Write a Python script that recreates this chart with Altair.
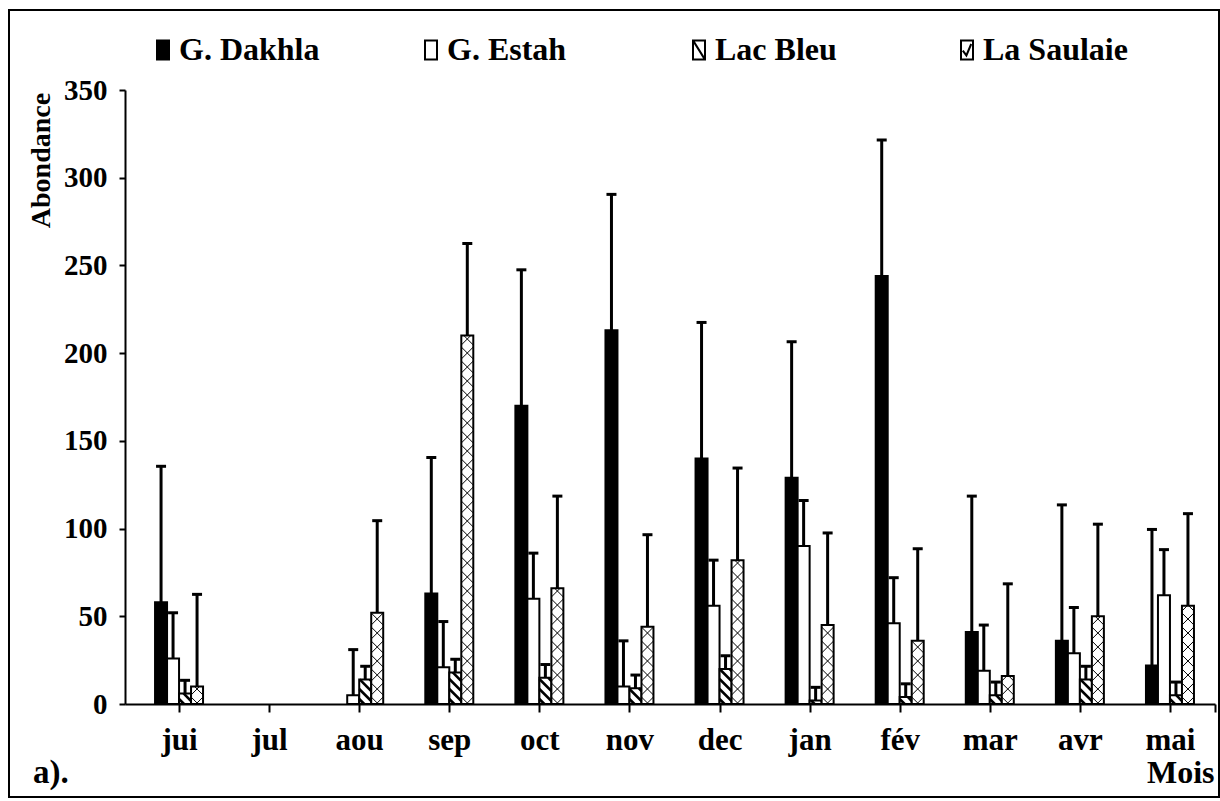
import json
import altair as alt
import pandas as pd

# ---- data -------------------------------------------------------------
months = ["jui", "jul", "aou", "sep", "oct", "nov", "dec", "jan", "fév", "mar", "avr", "mai"]
series = ["G. Dakhla", "G. Estah", "Lac Bleu", "La Saulaie"]

# mean abundance per month (None = no sample)
dakhla = [58, None, None, 63, 170, 213, 140, 129, 244, 41, 36, 22]
estah = [26, None, 5, 21, 60, 10, 56, 90, 46, 19, 29, 62]
lac_bleu = [6, None, 14, 18, 15, 9, 20, 2, 4, 5, 14, 5]
saulaie = [10, None, 52, 210, 66, 44, 82, 45, 36, 16, 50, 56]

# error bar length per site
errors = [77.5, 26, 7.5, 52.5]

values = [dakhla, estah, lac_bleu, saulaie]

# ---- styling / geometry ---------------------------------------------
FONT = "Liberation Serif"
W, H = 1090, 614
X_DOMAIN = [-0.6, 11.5]
Y_MAX = 350
PX_X = W / (X_DOMAIN[1] - X_DOMAIN[0])
PX_Y = H / Y_MAX
BAR_W = 12 / PX_X
offsets = [-1.5, -0.5, 0.5, 1.5]
fills = ["black", "white", "white", "white"]
CAP = 5 / PX_X

# legend keys: tall boxes, with a diagonal / a tick for the hatched sites
box = "M-1,-1.6H1V1.6H-1Z"
shapes = [box, box, box + "M-1,-1.6L1,1.6", box + "M-0.7,0.1L-0.1,0.9L0.7,-1.0"]

bars, hatch = [], []


def hatch_lines(xl, h, direction, spacing_px, site):
    """45-degree hatch segments clipped to the bar [xl, xl+BAR_W] x [0, h]."""
    w_px = BAR_W * PX_X
    k = 1 / PX_Y
    out = []
    if direction < 0:  # "\" : value falls to the right
        c = spacing_px * k / 2
        while c < h + w_px * k:
            u0, u1 = max(0.0, (c - h) / k), min(w_px, c / k)
            if u1 - u0 > 0.5:
                out.append((u0, c - u0 * k, u1, c - u1 * k))
            c += spacing_px * k
    else:  # "/" : value rises to the right
        c = -w_px * k + spacing_px * k / 2
        while c < h:
            u0, u1 = max(0.0, -c / k), min(w_px, (h - c) / k)
            if u1 - u0 > 0.5:
                out.append((u0, c + u0 * k, u1, c + u1 * k))
            c += spacing_px * k
    for u0, v0, u1, v1 in out:
        hatch.append({"site": site, "hx": xl + u0 / PX_X, "hy": v0,
                      "hx2": xl + u1 / PX_X, "hy2": v1})


for j, s in enumerate(series):
    for i, m in enumerate(months):
        v = values[j][i]
        if v is None:
            continue
        xc = i + offsets[j] * BAR_W
        xl = xc - BAR_W / 2
        bars.append({"site": s, "month": m, "val": v, "base": 0, "fill": fills[j],
                     "x0": xl, "x1": xl + BAR_W, "xc": xc,
                     "top": v + errors[j], "cl": xc - CAP, "cr": xc + CAP})
        if s == "Lac Bleu":
            hatch_lines(xl, v, -1, 10, s)
        elif s == "La Saulaie":
            hatch_lines(xl, v, -1, 14, s)
            hatch_lines(xl, v, 1, 14, s)

bars_df = pd.DataFrame(bars)
hatch_df = pd.DataFrame(hatch)
one = pd.DataFrame({"k": [0]})

label_expr = "datum.value > 11 ? '' : " + json.dumps(months, ensure_ascii=False) + "[datum.value]"

x_scale = alt.Scale(domain=X_DOMAIN, nice=False, zero=False)
y_scale = alt.Scale(domain=[0, Y_MAX], nice=False)

x_axis = alt.Axis(values=list(range(12)) + [11.5], labelExpr=label_expr, title="Mois",
                  grid=False, domainColor="black", domainWidth=2, tickColor="black",
                  tickWidth=2, tickSize=8, labelFont=FONT, labelFontSize=31,
                  labelFontWeight="bold", labelColor="black", labelPadding=13,
                  titleFont=FONT, titleFontSize=32, titleFontWeight="bold",
                  titleColor="black", titleX=1089, titleY=78, titleAlign="right",
                  titleBaseline="alphabetic", labelFlush=False, labelOverlap=False)
y_axis = alt.Axis(values=list(range(0, 351, 50)), title="Abondance", grid=False,
                  domainColor="black", domainWidth=2, tickColor="black", tickWidth=2,
                  tickSize=6, labelFont=FONT, labelFontSize=29, labelFontWeight="bold",
                  labelColor="black", labelPadding=12, titleFont=FONT,
                  titleFontSize=28, titleFontWeight="bold", titleColor="black",
                  titleAngle=-90, titleX=-84, titleY=70, titleAlign="center",
                  titleBaseline="middle")

frame = alt.Chart(one).mark_rect(filled=False, stroke="black", strokeWidth=2).encode(
    x=alt.value(-116), x2=alt.value(1094), y=alt.value(-80), y2=alt.value(707))

bar_layer = alt.Chart(bars_df).mark_rect(stroke="black", strokeWidth=2).encode(
    x=alt.X("x0:Q", scale=x_scale, axis=x_axis),
    x2="x1:Q",
    y=alt.Y("val:Q", scale=y_scale, axis=y_axis),
    y2="base:Q",
    fill=alt.Fill("fill:N", scale=None),
)

hatch_layer = alt.Chart(hatch_df).mark_rule(color="black").encode(
    x=alt.X("hx:Q", scale=x_scale, axis=x_axis),
    x2="hx2:Q",
    y=alt.Y("hy:Q", scale=y_scale, axis=y_axis),
    y2="hy2:Q",
    strokeWidth=alt.condition(alt.datum.site == "Lac Bleu", alt.value(2.5), alt.value(1)),
)

stems = alt.Chart(bars_df).mark_rule(color="black", strokeWidth=3).encode(
    x=alt.X("xc:Q", scale=x_scale, axis=x_axis),
    y=alt.Y("val:Q", scale=y_scale, axis=y_axis),
    y2="top:Q",
)

caps = alt.Chart(bars_df).mark_rule(color="black", strokeWidth=3).encode(
    x=alt.X("cl:Q", scale=x_scale, axis=x_axis),
    x2="cr:Q",
    y=alt.Y("top:Q", scale=y_scale, axis=y_axis),
)

legend = alt.Legend(title=None, orient="none", legendX=22, legendY=-56,
                    direction="horizontal", columns=4, gridAlign="all",
                    columnPadding=91, symbolSize=144, symbolStrokeColor="black",
                    symbolStrokeWidth=2, labelFont=FONT, labelFontSize=32,
                    labelFontWeight="bold", labelColor="black", labelOffset=0,
                    padding=0)

key_layer = alt.Chart(pd.DataFrame({"site": series})).mark_point(
    filled=True, stroke="black", strokeWidth=2, size=144).encode(
    x=alt.value(-600), y=alt.value(-600),
    fill=alt.Fill("site:N", scale=alt.Scale(domain=series, range=fills), legend=legend),
    shape=alt.Shape("site:N", scale=alt.Scale(domain=series, range=shapes), legend=legend),
)

panel_tag = alt.Chart(one).mark_text(text="a).", font=FONT, fontSize=33, fontWeight="bold",
                                     align="left", baseline="alphabetic", color="black").encode(
    x=alt.value(-92), y=alt.value(693))

chart = alt.layer(frame, bar_layer, hatch_layer, stems, caps, key_layer, panel_tag).properties(
    width=W, height=H,
    padding={"left": 125, "top": 90, "right": 5, "bottom": 97},
    autosize=alt.AutoSizeParams(type="none"),
).configure(background="white").configure_view(stroke=None)

chart.save("out.html", embed_options={"renderer": "svg", "actions": False})
